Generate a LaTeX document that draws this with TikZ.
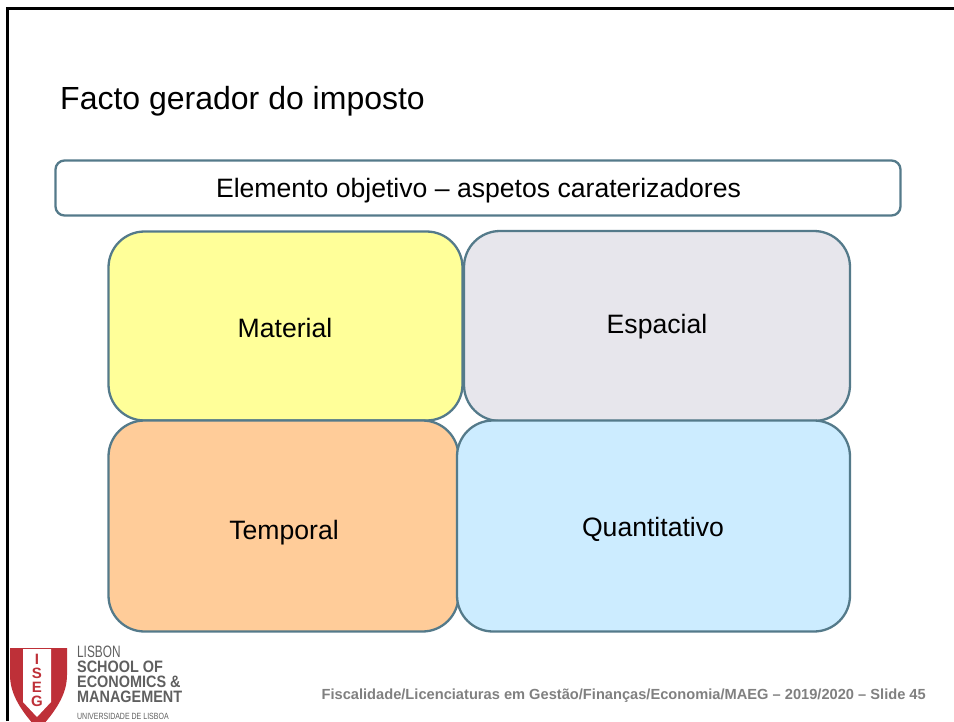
\documentclass[tikz,border=0pt]{standalone}
\usepackage{fontspec}
\setmainfont{Liberation Sans}
\usetikzlibrary{calc}
\definecolor{edgeblue}{RGB}{84,122,138}
\definecolor{iseg}{RGB}{190,48,56}
\definecolor{loggray}{RGB}{95,95,95}
\tikzset{
  panel/.style={draw=edgeblue,line width=2.3pt,rounded corners=#1,anchor=center,inner sep=0pt},
  panel/.default=36pt,
  panellabel/.style={font=\fontsize{26.6}{30}\selectfont,text=black},
  logoline/.style={anchor=west,inner sep=0pt,text=loggray,xscale=.875,font=\bfseries\fontsize{16.5}{18}\selectfont}
}
\begin{document}
\begin{tikzpicture}[x=1pt,y=-1pt]
    \useasboundingbox (0,0) rectangle (954,721);
    % Slide frame
    \draw[line width=3pt] (7.5,721) -- (7.5,8) -- (954,8);

    % Title
    \node[anchor=west,inner sep=0pt,font=\fontsize{32}{38}\selectfont] (title) at (60,101) {Facto gerador do imposto};

    % Header box
    \node[panel=9pt,minimum width=845pt,minimum height=55pt] (header) at (478,188) {};
    \node[panellabel] (headertext) at (478.5,190.5) {Elemento objetivo – aspetos caraterizadores};

    % Four aspects
    \node[panel,fill={rgb,255:red,255;green,255;blue,153},minimum width=354pt,minimum height=189pt] (material) at (285.5,326) {};
    \node[panel,fill={rgb,255:red,231;green,230;blue,236},minimum width=386pt,minimum height=190pt] (espacial) at (657,326) {};
    \node[panel,fill={rgb,255:red,255;green,204;blue,153},minimum width=350pt,minimum height=211pt] (temporal) at (283.5,526) {};
    \node[panel,fill={rgb,255:red,204;green,236;blue,255},minimum width=393pt,minimum height=211pt] (quantitativo) at (653.5,526) {};
    \node[panellabel] at (285,327.5) {Material};
    \node[panellabel] at (657,327) {Espacial};
    \node[panellabel] at (284,533) {Temporal};
    \node[panellabel] at (653,529) {Quantitativo};

    % Logo
    \fill[iseg] (10,648) -- (67,648) -- (67,675) .. controls (67,695) and (55,712) .. (38.5,730) .. controls (22,712) and (10,695) .. (10,675) -- cycle;
    \fill[white] (23,649) -- (51,649) -- (51,702) -- (37,717) -- (23,702) -- cycle;
    \foreach \letter/\ypos in {I/659,S/673,E/687,G/701}
        \node[inner sep=0pt,text=iseg,font=\bfseries\fontsize{15}{15}\selectfont] at (37,\ypos) {\letter};
    \node[logoline,xscale=.82,font=\fontsize{16.5}{18}\selectfont] at (77,652) {LISBON};
    \node[logoline] at (77,667) {SCHOOL OF};
    \node[logoline] at (77,682) {ECONOMICS \&};
    \node[logoline] at (77,697) {MANAGEMENT};
    \node[logoline,xscale=.89,font=\fontsize{9}{10}\selectfont] at (77,716) {UNIVERSIDADE DE LISBOA};

    % Footer
    \node[anchor=east,inner sep=0pt,text={rgb,255:red,128;green,128;blue,128},font=\bfseries\fontsize{14.65}{16}\selectfont] (footer) at (926,696) {Fiscalidade/Licenciaturas em Gestão/Finanças/Economia/MAEG – 2019/2020 – Slide 45};
\end{tikzpicture}
\end{document}
